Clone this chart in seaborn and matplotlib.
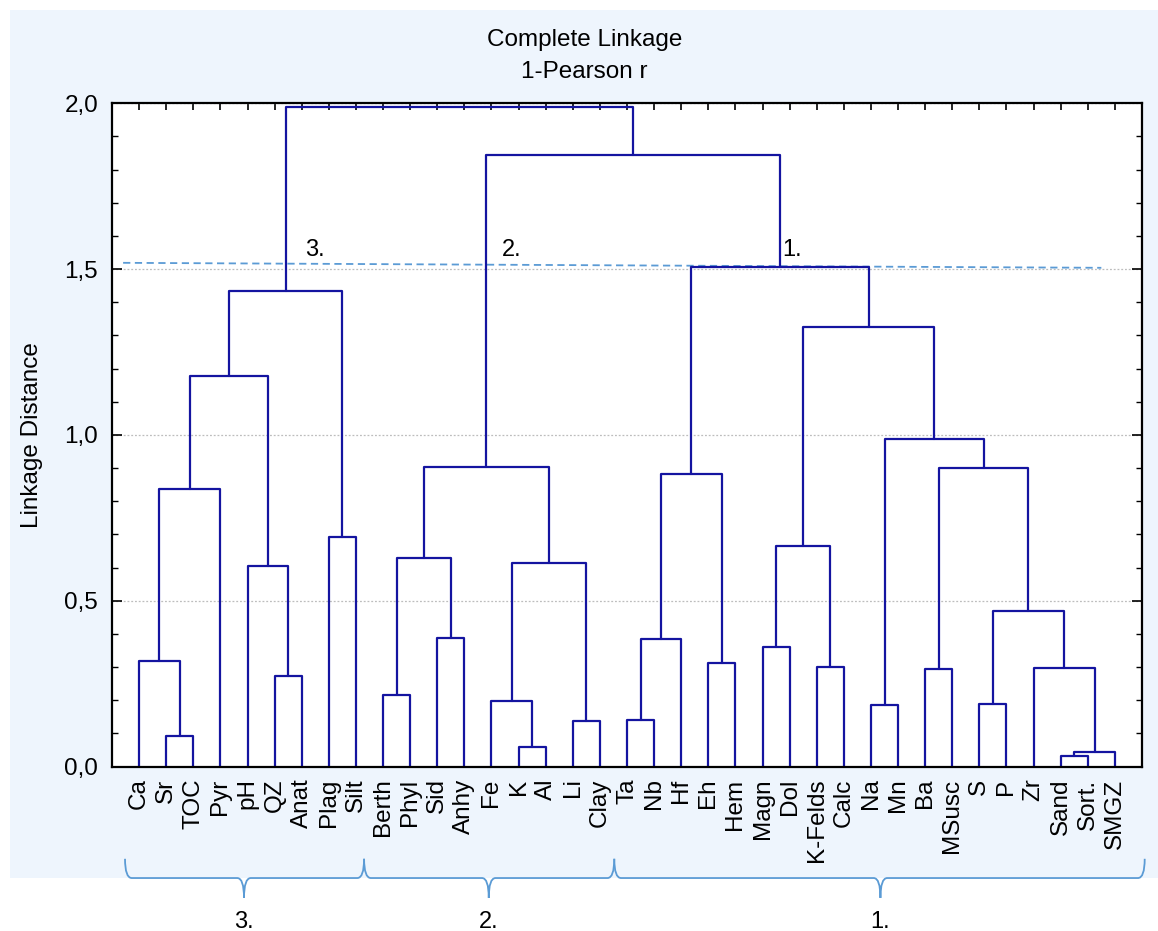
import matplotlib
matplotlib.use("Agg")
import matplotlib.pyplot as plt
from matplotlib.patches import Rectangle, PathPatch
from matplotlib.path import Path
import seaborn as sns
import pandas as pd

# leaves in dendrogram order
leaves = ["Ca", "Sr", "TOC", "Pyr", "pH", "QZ", "Anat", "Plag", "Silt",
          "Berth", "Phyl", "Sid", "Anhy", "Fe", "K", "Al", "Li", "Clay",
          "Ta", "Nb", "Hf", "Eh", "Hem", "Magn", "Dol", "K-Felds", "Calc",
          "Na", "Mn", "Ba", "MSusc", "S", "P", "Zr", "Sand", "Sort.", "SMGZ"]

# merges: left, right, linkage distance; "mN" = cluster made by merge N
merge_left = ["Sr", "Ca", "m1", "QZ", "pH", "m2", "Plag", "m5",
              "Berth", "Sid", "m8", "K", "Fe", "Li", "m12", "m10",
              "Ta", "m16", "Eh", "m17", "Magn", "K-Felds", "m20",
              "Na", "Ba", "S", "Sand", "m26", "Zr", "m25", "m24", "m23",
              "m22", "m19", "m15", "m7"]
merge_right = ["TOC", "m0", "Pyr", "Anat", "m3", "m4", "Silt", "m6",
               "Phyl", "Anhy", "m9", "Al", "m11", "Clay", "m13", "m14",
               "Nb", "Hf", "Hem", "m18", "Dol", "Calc", "m21",
               "Mn", "MSusc", "P", "Sort.", "SMGZ", "m27", "m28", "m29", "m30",
               "m31", "m32", "m33", "m34"]
merge_height = [0.092, 0.319, 0.837, 0.272, 0.606, 1.177, 0.693, 1.434,
                0.216, 0.388, 0.630, 0.060, 0.197, 0.139, 0.613, 0.903,
                0.141, 0.385, 0.313, 0.881, 0.362, 0.299, 0.666,
                0.187, 0.294, 0.190, 0.033, 0.044, 0.297, 0.470, 0.901, 0.987,
                1.324, 1.505, 1.843, 1.989]

groups = ["3.", "2.", "1."]
group_start = [-0.52, 8.3, 17.53]
group_end = [8.3, 17.53, 37.1]
group_tip = [3.87, 12.9, 27.35]
cut_label_x = [6.5, 13.75, 24.08]

ytick_vals = [0.0, 0.5, 1.0, 1.5, 2.0]
ytick_labels = ["0,0", "0,5", "1,0", "1,5", "2,0"]

sns.set_style("ticks")
plt.rcParams["font.family"] = ["Liberation Sans", "DejaVu Sans"]
for key in ["text.color", "axes.labelcolor", "xtick.color", "ytick.color"]:
    plt.rcParams[key] = "black"
FS = 17.5

W, H = 1158, 931
fig = plt.figure(figsize=(W / 100, H / 100), dpi=100)
fig.patches.append(Rectangle((10 / W, 1 - 878 / H), 1 - 10 / W, (878 - 10) / H,
                             transform=fig.transFigure, facecolor="#eef5fd",
                             edgecolor="none", zorder=-10))
ax = fig.add_axes([112 / W, 1 - 766.6 / H, 1030 / W, 663.3 / H])
ax.set_facecolor("white")

# build dendrogram link paths
pos = {name: i for i, name in enumerate(leaves)}
hgt = {name: 0.0 for name in leaves}
rows = []
for k, (l, r, h) in enumerate(zip(merge_left, merge_right, merge_height)):
    xl, xr = pos[l], pos[r]
    for x, y in [(xl, hgt[l]), (xl, h), (xr, h), (xr, hgt[r])]:
        rows.append({"link": k, "x": x, "y": y})
    pos[f"m{k}"] = (xl + xr) / 2
    hgt[f"m{k}"] = h
links = pd.DataFrame(rows)

sns.lineplot(data=links, x="x", y="y", units="link", estimator=None, sort=False,
             color="#1414a0", linewidth=1.6, ax=ax, zorder=3)

ax.set_xlim(-1, len(leaves))
ax.set_ylim(0, 2.0)
ax.set_xticks(range(len(leaves)))
ax.set_xticklabels(leaves, rotation=90, fontsize=FS)
ax.set_yticks(ytick_vals)
ax.set_yticklabels(ytick_labels, fontsize=FS)
ax.set_yticks([i / 10 for i in range(21)], minor=True)
ax.tick_params(axis="x", direction="in", top=True, length=5, width=1.2, pad=8.5)
ax.tick_params(axis="y", which="major", direction="in", right=True, length=7,
               width=1.2, pad=10)
ax.tick_params(axis="y", which="minor", direction="in", right=True, length=4,
               width=1.0)
ax.set_xlabel("")
ax.set_ylabel("Linkage Distance", fontsize=FS)
ax.yaxis.set_label_coords(-0.067, 0.5)
ax.yaxis.grid(True, which="major", linestyle=(0, (1.5, 1.5)), color="#bdbdbd",
              linewidth=0.9)
ax.set_axisbelow(True)
for s in ax.spines.values():
    s.set_linewidth(1.6)
    s.set_color("black")
    s.set_zorder(5)

# cut line with cluster numbers
ax.plot([-0.59, 35.5], [1.519, 1.504], linestyle=(0, (4, 2.5)), color="#5b9bd5",
        linewidth=1.3, zorder=2)
for g, x in zip(groups, cut_label_x):
    ax.text(x, 1.557, g, fontsize=FS - 0.5, ha="center", va="center")

# braces under the leaf labels
trans = ax.get_xaxis_transform()
ytop, ymid, ybot = -0.139, -0.168, -0.198
r = 0.25
for g, x0, x1, xc in zip(groups, group_start, group_end, group_tip):
    verts = [(x0, ytop), (x0, ymid), (x0 + r, ymid), (xc - r, ymid),
             (xc, ymid), (xc, ybot), (xc, ymid), (xc + r, ymid),
             (x1 - r, ymid), (x1, ymid), (x1, ytop)]
    codes = [Path.MOVETO, Path.CURVE3, Path.CURVE3, Path.LINETO,
             Path.CURVE3, Path.CURVE3, Path.CURVE3, Path.CURVE3,
             Path.LINETO, Path.CURVE3, Path.CURVE3]
    ax.add_patch(PathPatch(Path(verts, codes), transform=trans, fill=False,
                           edgecolor="#5b9bd5", linewidth=1.3, clip_on=False))
    ax.text(xc, -0.234, g, transform=trans, fontsize=FS - 0.5, ha="center",
            va="center")

fig.text(584.5 / W, 1 - 40 / H, "Complete Linkage", fontsize=FS,
         ha="center", va="center")
fig.text(584.5 / W, 1 - 71.7 / H, "1-Pearson r", fontsize=FS,
         ha="center", va="center")

fig.savefig("out.png", dpi=100, facecolor="white")
